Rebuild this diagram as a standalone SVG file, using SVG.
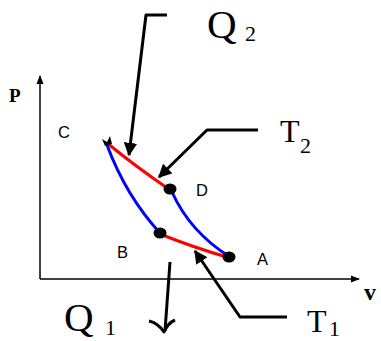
<svg xmlns="http://www.w3.org/2000/svg" width="381" height="341" viewBox="0 0 381 341">
<style>
.ax{stroke:#000;stroke-width:1.5;fill:none}
.ld{stroke:#000;stroke-width:3;fill:none;stroke-linejoin:round}
.red{stroke:#f00;stroke-width:3;fill:none}
.blue{stroke:#00f;stroke-width:3;fill:none}
.bigQ{font-family:"Liberation Serif",serif;font-size:41px;fill:#000}
.bigT{font-family:"Liberation Serif",serif;font-size:32px;fill:#000}
.sub{font-family:"Liberation Serif",serif;font-size:22px;fill:#000}
.pt{font-family:"Liberation Sans",sans-serif;font-size:16.5px;fill:#000}
.axl{font-family:"Liberation Serif",serif;font-weight:bold;fill:#000}
.dot{fill:#000}
</style>
<defs>
<marker id="ah" viewBox="0 0 10 10" refX="9" refY="5" markerWidth="4.5" markerHeight="4.5" orient="auto" markerUnits="strokeWidth"><path d="M0,0 L10,5 L0,10 z" fill="#000"/></marker>
<marker id="axh" viewBox="0 0 10 10" refX="9" refY="5" markerWidth="6" markerHeight="6" orient="auto" markerUnits="strokeWidth"><path d="M0,1 L10,5 L0,9 z" fill="#000"/></marker>
</defs>
<g id="axes">
<line class="ax" x1="40" y1="279" x2="40" y2="76" marker-end="url(#axh)"/>
<line class="ax" x1="40" y1="279" x2="359" y2="279" marker-end="url(#axh)"/>
<text class="axl" x="9" y="102" font-size="19">P</text>
<text class="axl" x="364" y="300" font-size="24">v</text>
</g>
<g id="cycle">
<path class="red" d="M107,143 Q135,166 170,190"/>
<path class="blue" d="M107,145 Q126,196 160,233"/>
<path class="blue" d="M172,192 Q190,232 230,257"/>
<path class="red" d="M160,234 Q195,248 230,258"/>
<path d="M102,139 L107,142 L110,136 L112,144 L105,146 z" fill="#000"/>
</g>
<g id="node-C"><text class="pt" x="58" y="138">C</text></g>
<g id="node-D"><ellipse class="dot" cx="170" cy="189" rx="6.5" ry="5.5"/><text class="pt" x="196" y="196">D</text></g>
<g id="node-B"><ellipse class="dot" cx="160" cy="233" rx="6.5" ry="5.5"/><text class="pt" x="117" y="258">B</text></g>
<g id="node-A"><ellipse class="dot" cx="229" cy="257" rx="6.5" ry="5.5"/><text class="pt" x="257" y="265">A</text></g>
<g id="label-Q2"><text class="bigQ" x="207" y="38">Q</text><text class="sub" x="245" y="41">2</text></g>
<g id="label-T2"><text class="bigT" x="280" y="142">T</text><text class="sub" x="300" y="153">2</text></g>
<g id="label-Q1"><text class="bigQ" x="64" y="331">Q</text><text class="sub" x="105" y="335">1</text></g>
<g id="label-T1"><text class="bigT" x="307" y="332">T</text><text class="sub" x="329" y="336">1</text></g>
<g id="connectors">
<polyline class="ld" points="167,15 146,15 129,155" marker-end="url(#ah)"/>
<polyline class="ld" points="258,130 207,130 159,177" marker-end="url(#ah)"/>
<polyline class="ld" points="287,317 240,317 195,251" marker-end="url(#ah)"/>
<path class="ld" d="M170,262 L165,331"/>
<path class="ld" d="M149,321 Q158,323 164,332 Q168,323 175,320"/>
</g>
</svg>
